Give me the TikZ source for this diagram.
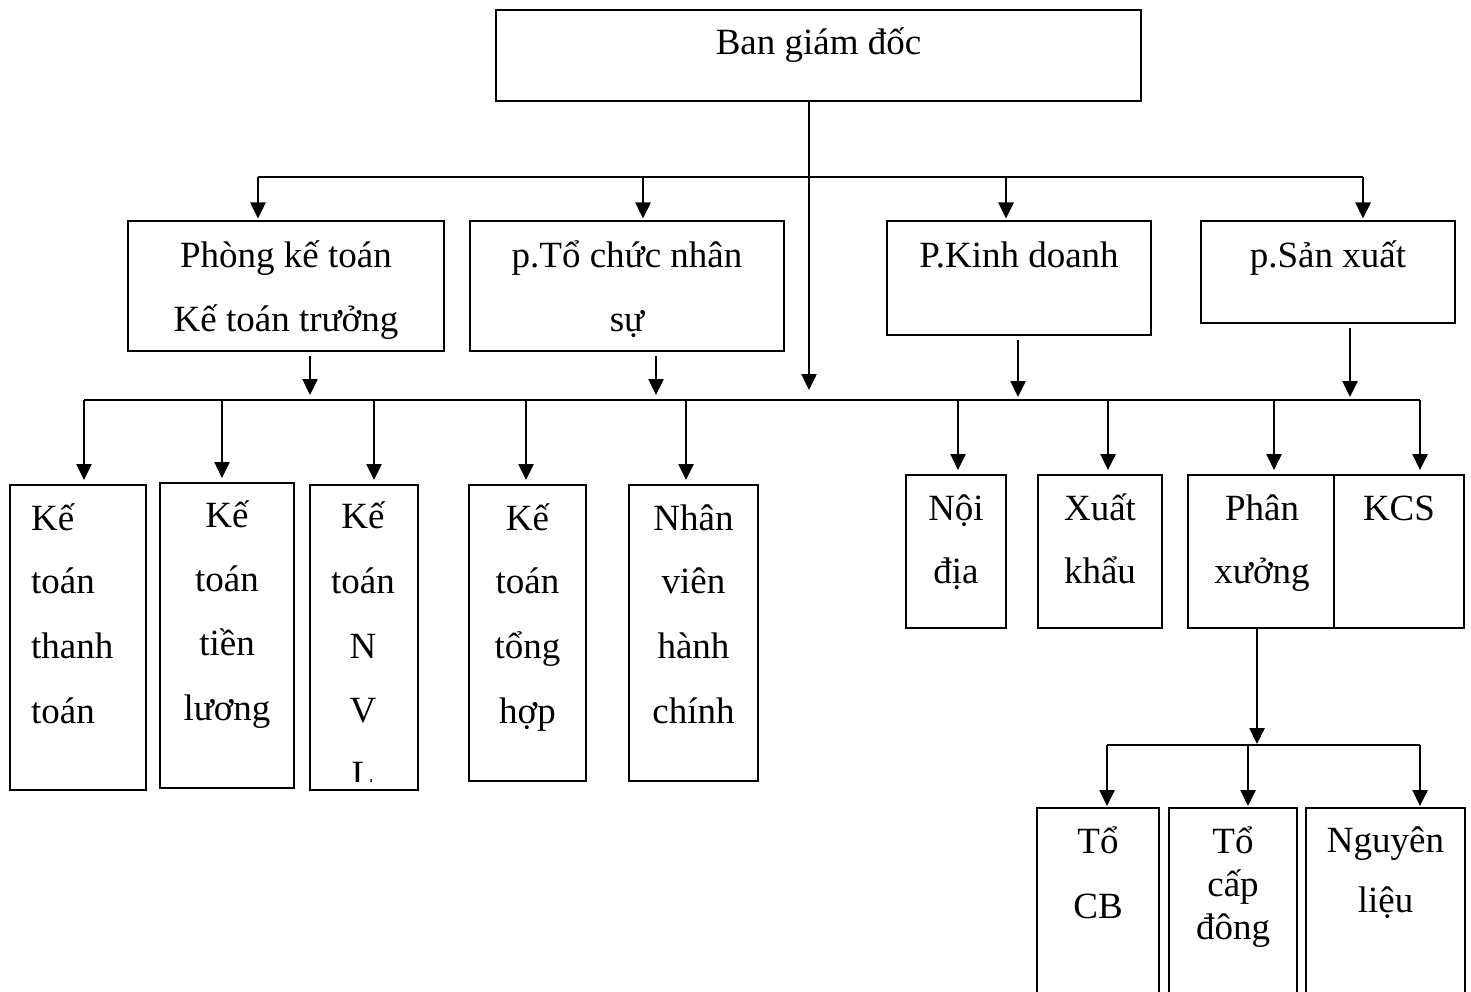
\documentclass[tikz,border=0pt]{standalone}
\usepackage{fontspec}
\setmainfont{Liberation Serif}
\usetikzlibrary{arrows.meta}
\begin{document}
\begin{tikzpicture}[x=1pt,y=-1pt,
  box/.style={draw, line width=2pt, inner sep=0pt},
  txt/.style={font=\fontsize{37}{44}\selectfont, inner sep=0pt, anchor=base},
  conn/.style={line width=2.5pt},
  arr/.style={conn, -{Triangle[length=16pt,width=15pt]}}]
\useasboundingbox (0,0) rectangle (1471,992);
\fill[white] (0,0) rectangle (1471,992);
\clip (0,0) rectangle (1471,992);

% ---- boxes ----
\node[box, minimum width=645pt, minimum height=91pt]  (bgd) at (818.5,55.5) {};
\node[box, minimum width=316pt, minimum height=130pt] (pkt) at (286,286) {};
\node[box, minimum width=314pt, minimum height=130pt] (ptc) at (627,286) {};
\node[box, minimum width=264pt, minimum height=114pt] (pkd) at (1019,278) {};
\node[box, minimum width=254pt, minimum height=102pt] (psx) at (1328,272) {};

\node[box, minimum width=136pt, minimum height=305pt] (k1) at (78,637.5) {};
\node[box, minimum width=134pt, minimum height=305pt] (k2) at (227,635.5) {};
\node[box, minimum width=108pt, minimum height=305pt] (k3) at (364,637.5) {};
\node[box, minimum width=117pt, minimum height=296pt] (k4) at (527.5,633) {};
\node[box, minimum width=129pt, minimum height=296pt] (k5) at (693.5,633) {};

\node[box, minimum width=100pt, minimum height=153pt] (nd)  at (956,551.5) {};
\node[box, minimum width=124pt, minimum height=153pt] (xk)  at (1100,551.5) {};
\node[box, minimum width=146pt, minimum height=153pt] (px)  at (1261,551.5) {};
\node[box, minimum width=130pt, minimum height=153pt] (kcs) at (1399,551.5) {};

\node[box, minimum width=122pt, minimum height=202pt] (cb) at (1098,909) {};
\node[box, minimum width=128pt, minimum height=202pt] (cd) at (1233,909) {};
\node[box, minimum width=159pt, minimum height=202pt] (nl) at (1385.5,909) {};

% ---- texts ----
\node[txt] (tbgd) at (818.5,55) {Ban giám đốc};
\node[txt] (tpkt1) at (286,267) {Phòng kế toán};
\node[txt] (tpkt2) at (286,331) {Kế toán trưởng};
\node[txt] (tptc1) at (627,267) {p.Tổ chức nhân};
\node[txt] (tptc2) at (627,331) {sự};
\node[txt] (tpkd) at (1019,267) {P.Kinh doanh};
\node[txt] (tpsx) at (1328,267) {p.Sản xuất};

\foreach \s/\y [count=\i] in {Kế/530,toán/593,thanh/658,toán/723}
  \node[txt, anchor=base west] (tk1-\i) at (31,\y) {\s};
\foreach \s/\y [count=\i] in {Kế/527,toán/591,tiền/655,lương/720}
  \node[txt] (tk2-\i) at (227,\y) {\s};
\foreach \s/\y [count=\i] in {Kế/528,toán/593,N/658,V/722}
  \node[txt] (tk3-\i) at (363,\y) {\s};
% the last letter is cut by the text area of the box
\begin{scope}
  \clip (312,700) rectangle (416,781);
  \node[txt] (tk3-5) at (363,786) {L};
\end{scope}
\foreach \s/\y [count=\i] in {Kế/530,toán/593,tổng/658,hợp/723}
  \node[txt] (tk4-\i) at (527.5,\y) {\s};
\foreach \s/\y [count=\i] in {Nhân/530,viên/593,hành/658,chính/723}
  \node[txt] (tk5-\i) at (693.5,\y) {\s};

\node[txt] (tnd1) at (956,520) {Nội};
\node[txt] (tnd2) at (956,583) {địa};
\node[txt] (txk1) at (1100,520) {Xuất};
\node[txt] (txk2) at (1100,583) {khẩu};
\node[txt] (tpx1) at (1262,520) {Phân};
\node[txt] (tpx2) at (1262,583) {xưởng};
\node[txt] (tkcs) at (1399,520) {KCS};

\node[txt] (tcb1) at (1098,853) {Tổ};
\node[txt] (tcb2) at (1098,918) {CB};
\node[txt] (tcd1) at (1233,853) {Tổ};
\node[txt] (tcd2) at (1233,896) {cấp};
\node[txt] (tcd3) at (1233,939) {đông};
\node[txt] (tnl1) at (1385.5,852) {Nguyên};
\node[txt] (tnl2) at (1385.5,912) {liệu};

% ---- trunk from the board ----
\coordinate (trunk) at (809,390);
\draw[arr] (trunk |- bgd.south) -- (trunk);

% ---- first bus ----
\coordinate (b1L) at (258,177);
\coordinate (b1R) at (1363,177);
\draw[conn] (b1L) -- (b1R);
\foreach \x/\n in {258/pkt,643/ptc,1006/pkd,1363/psx}{
  \coordinate (d\n) at (\x,177);
  \draw[arr, shorten >=1.5pt] (d\n) -- (d\n |- \n.north);
}

% ---- from departments down to second bus ----
\foreach \x/\y/\n in {310/395/pkt,656/395/ptc,1018/397/pkd,1350/397/psx}{
  \coordinate (u\n) at (\x,\y);
  \draw[arr, shorten <=4pt] (u\n |- \n.south) -- (u\n);
}

% ---- second bus ----
\coordinate (b2L) at (84,400);
\coordinate (b2R) at (1420,400);
\draw[conn] (b2L) -- (b2R);
\foreach \x/\n in {84/k1,222/k2,374/k3,526/k4,686/k5,958/nd,1108/xk,1274/px,1420/kcs}{
  \coordinate (e\n) at (\x,400);
  \draw[arr, shorten >=4pt] (e\n) -- (e\n |- \n.north);
}

% ---- workshop branch ----
\coordinate (f) at (1257,744);
\draw[arr] (f |- px.south) -- (f);
\coordinate (b3L) at (1107,745);
\coordinate (b3R) at (1420,745);
\draw[conn] (b3L) -- (b3R);
\foreach \x/\n in {1107/cb,1248/cd,1420/nl}{
  \coordinate (g\n) at (\x,745);
  \draw[arr, shorten >=1pt] (g\n) -- (g\n |- \n.north);
}
\end{tikzpicture}
\end{document}
